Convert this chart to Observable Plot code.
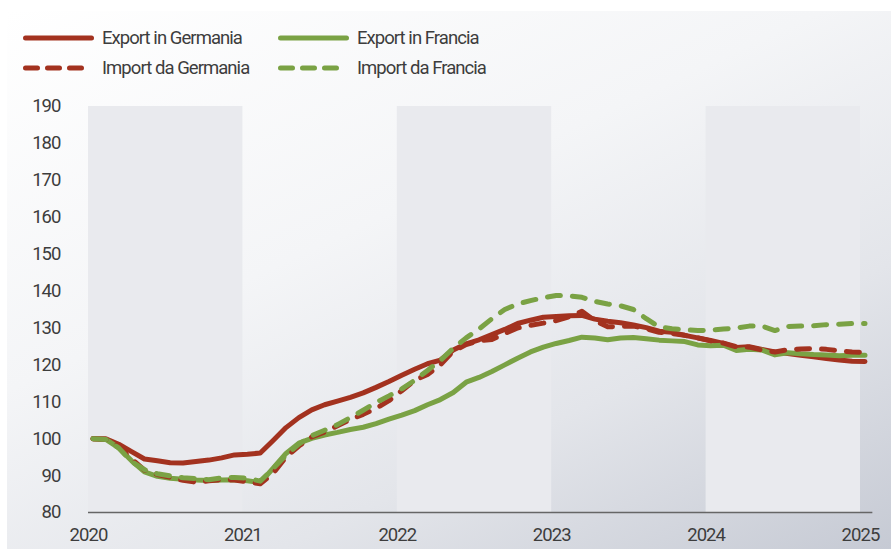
<!DOCTYPE html>
<html>
<head>
<meta charset="utf-8">
<script src="https://cdn.jsdelivr.net/npm/d3@7"></script>
<script src="https://cdn.jsdelivr.net/npm/@observablehq/plot@0.6"></script>
<style>
  html, body { margin: 0; padding: 0; background: #ffffff; }
  body { width: 891px; height: 549px; position: relative; overflow: hidden; font-family: Roboto, sans-serif; }
  #card { position: absolute; left: 7px; top: 11px; width: 884px; height: 538px;
    background: linear-gradient(155deg, #ffffff 0%, #f4f5f7 40%, #e3e5ea 70%, #c6cad4 100%); }
  #legend { position: absolute; left: 0; top: 0; width: 891px; height: 90px; }
  .item { position: absolute; display: flex; align-items: center; font-size: 18.5px; color: #3d3d3d; letter-spacing: -0.95px; }
  .item svg { margin-right: 6px; }
  #chart { position: absolute; left: 0; top: 90px; }
</style>
</head>
<body>
<div id="card"></div>
<div id="legend"></div>
<div id="chart"></div>
<script>
// Data: monthly index values, Jan 2020 .. Jan 2025 (2020 = 100)
const years = [2020, 2021, 2022, 2023, 2024, 2025];
const shadedYears = [2020, 2022, 2024];
const yTicks = [80, 90, 100, 110, 120, 130, 140, 150, 160, 170, 180, 190];

const exportGermania = [100,100,98.5,96.5,94.5,94,93.5,93.4,93.8,94.2,94.8,95.6,95.8,96.1,
  99.5,103,105.7,107.8,109.2,110.2,111.2,112.4,113.9,115.5,117.2,118.8,120.3,121.3,
  124,125.7,126.8,128.2,129.6,131.2,132.1,132.9,133.1,133.3,133.4,132.4,131.8,131.4,
  130.8,130.1,129.1,128.8,128,127.3,126.6,125.8,124.7,124.9,124.2,123.5,123.1,122.6,122.2,121.7,121.3,121,120.9];
const importGermania = [100,99.8,97.8,94.5,91.5,90.3,89.5,88.7,88.2,88.6,88.9,88.8,88.3,87.8,
  90.6,95,98,100.5,101.8,103.5,105.2,106.6,108.2,110.3,113,115.8,117.4,120,
  123.7,125.5,126.5,126.9,128.5,130,130.7,131.3,132,133,134.5,132,130.3,130.4,
  130.5,129.8,128.8,128.5,128,127.3,126.5,125.9,124.9,124.8,124,123.5,124.1,124.3,124.4,124.2,123.8,123.5,123.4];
const exportFrancia = [100,99.8,97.5,94,91,89.8,89.3,89,88.8,88.7,88.8,88.9,88.6,88.1,
  92,96,98.8,100.1,101,101.7,102.5,103.1,104.1,105.3,106.4,107.6,109.2,110.6,
  112.5,115.3,116.6,118.2,120,121.8,123.5,124.8,125.8,126.6,127.5,127.3,126.8,127.3,
  127.4,127.1,126.7,126.5,126.3,125.4,125.2,125.3,123.9,124.2,124,122.7,123.3,123,122.8,122.7,122.5,122.6,122.6];
const importFrancia = [100,99.8,97.5,93.8,91.6,90.5,89.9,89.4,89.2,88.9,89.4,89.5,89.3,88.5,
  91.9,95.5,98.5,100.8,102.3,103.8,105.7,107.7,109.8,111.6,113.5,115.8,118.5,121.2,
  124.5,127.3,129.7,132.5,135,136.5,137.4,138.2,138.8,138.7,138.3,137.2,136.5,136,
  135,132.5,130.3,129.8,129.5,129.3,129.4,129.7,130,130.5,130.5,129.3,130.4,130.5,130.6,130.9,131,131.2,131.2];

const RED = "#a3321f", GREEN = "#7aa244";
const seriesStyle = {
  "Export in Germania": {color: RED, dash: null},
  "Import da Germania": {color: RED, dash: "13 12"},
  "Export in Francia": {color: GREEN, dash: null},
  "Import da Francia": {color: GREEN, dash: "13 12"}
};
const seriesValues = {
  "Export in Germania": exportGermania,
  "Import da Germania": importGermania,
  "Export in Francia": exportFrancia,
  "Import da Francia": importFrancia
};

// month index -> fractional year (points sit slightly into each month)
const toYear = i => 2020 + (i + 0.35) / 12;
const rows = name => seriesValues[name].map((v, i) => ({t: toYear(i), v}));

// Legend
const legend = document.getElementById("legend");
const legendPos = [
  {name: "Export in Germania", left: 20, top: 27},
  {name: "Export in Francia", left: 275, top: 27},
  {name: "Import da Germania", left: 20, top: 57},
  {name: "Import da Francia", left: 275, top: 57}
];
for (const p of legendPos) {
  const st = seriesStyle[p.name];
  const div = document.createElement("div");
  div.className = "item";
  div.style.left = p.left + "px";
  div.style.top = p.top + "px";
  div.innerHTML = `<svg width="76" height="22"><line x1="5.5" x2="71.5" y1="11" y2="11" stroke="${st.color}" stroke-width="5" stroke-linecap="round" ${st.dash ? 'stroke-dasharray="12 10"' : ''}/></svg><span>${p.name}</span>`;
  legend.appendChild(div);
}

const lineOrder = ["Export in Germania", "Export in Francia", "Import da Germania", "Import da Francia"];

const chart = Plot.plot({
  width: 891,
  height: 459,
  marginLeft: 88,
  marginRight: 31,
  marginTop: 16,
  marginBottom: 37,
  style: {background: "transparent", fontFamily: "Roboto, sans-serif", fontSize: "18.5px", color: "#3d3d3d", letterSpacing: "-0.95px", overflow: "visible"},
  x: {domain: [2020, 2025], ticks: years, tickFormat: d => String(d), tickSize: 0, tickPadding: 15, label: null},
  y: {domain: [80, 190], ticks: yTicks, tickSize: 0, tickPadding: 28, label: null},
  marks: [
    Plot.rect(shadedYears, {x1: d => d, x2: d => d + 1, y1: 80, y2: 190, fill: "#e9eaee"}),
    Plot.ruleY([80], {x1: 2020, x2: 2025.08, stroke: "#666666", strokeWidth: 1.6}),
    ...lineOrder.map(name => Plot.line(rows(name), {
      x: "t", y: "v",
      stroke: seriesStyle[name].color,
      strokeWidth: 5,
      strokeLinecap: "round",
      strokeLinejoin: "round",
      strokeDasharray: seriesStyle[name].dash
    })),
    Plot.axisX({ticks: years, tickFormat: d => String(d), tickSize: 0, tickPadding: 15, fill: "#3d3d3d"}),
    Plot.axisY({ticks: yTicks, tickSize: 0, tickPadding: 28, fill: "#3d3d3d"})
  ]
});
document.getElementById("chart").appendChild(chart);
</script>
</body>
</html>
